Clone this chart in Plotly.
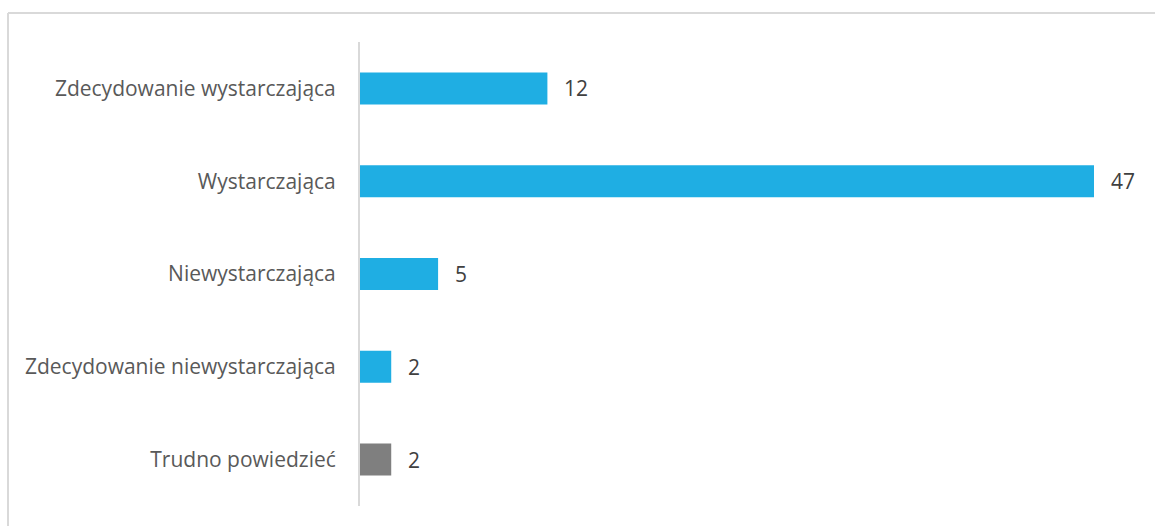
import plotly.graph_objects as go

categories = [
    "Zdecydowanie wystarczająca",
    "Wystarczająca",
    "Niewystarczająca",
    "Zdecydowanie niewystarczająca",
    "Trudno powiedzieć",
]
values = [12, 47, 5, 2, 2]
bar_colors = ["#1FAEE3", "#1FAEE3", "#1FAEE3", "#1FAEE3", "#7F7F7F"]

W, H = 1155, 526
L, R, T, B = 360, 25, 42, 20
pw, ph = W - L - R, H - T - B
FONT = "Open Sans"
FS = 21

fig = go.Figure(
    go.Bar(
        x=values,
        y=categories,
        orientation="h",
        marker=dict(color=bar_colors, line=dict(width=0)),
        width=0.345,
        hoverinfo="x+y",
    )
)

# value labels to the right of each bar
for cat, val in zip(categories, values):
    fig.add_annotation(
        x=val, y=cat, xref="x", yref="y",
        text=str(val), showarrow=False,
        xanchor="left", yanchor="middle", xshift=15,
        font=dict(family=FONT, size=FS, color="#404040"),
    )

# light frame around the chart (left and top edges visible)
frame_color = "#D9D9D9"
x0 = (8 - L) / pw
x1 = (W + 5 - L) / pw
y_top = 1 + (T - 13) / ph
y_bot = -(H + 5 - (H - B)) / ph
fig.add_shape(type="line", xref="paper", yref="paper", x0=x0, x1=x0, y0=y_bot, y1=y_top,
              line=dict(color=frame_color, width=2))
fig.add_shape(type="line", xref="paper", yref="paper", x0=x0, x1=x1, y0=y_top, y1=y_top,
              line=dict(color=frame_color, width=2))

fig.update_layout(
    width=W,
    height=H,
    margin=dict(l=L, r=R, t=T, b=B),
    paper_bgcolor="white",
    plot_bgcolor="white",
    showlegend=False,
    font=dict(family=FONT, size=FS, color="#595959"),
    xaxis=dict(
        range=[0, pw / (734 / 47)],
        visible=False,
        showgrid=False,
        zeroline=False,
    ),
    yaxis=dict(
        categoryorder="array",
        categoryarray=categories[::-1],
        showgrid=False,
        zeroline=False,
        showline=True,
        linecolor="#D9D9D9",
        linewidth=2,
        ticks="",
        ticklabelstandoff=18,
        tickfont=dict(family=FONT, size=FS, color="#595959"),
    ),
)

fig.write_html("out.html")
